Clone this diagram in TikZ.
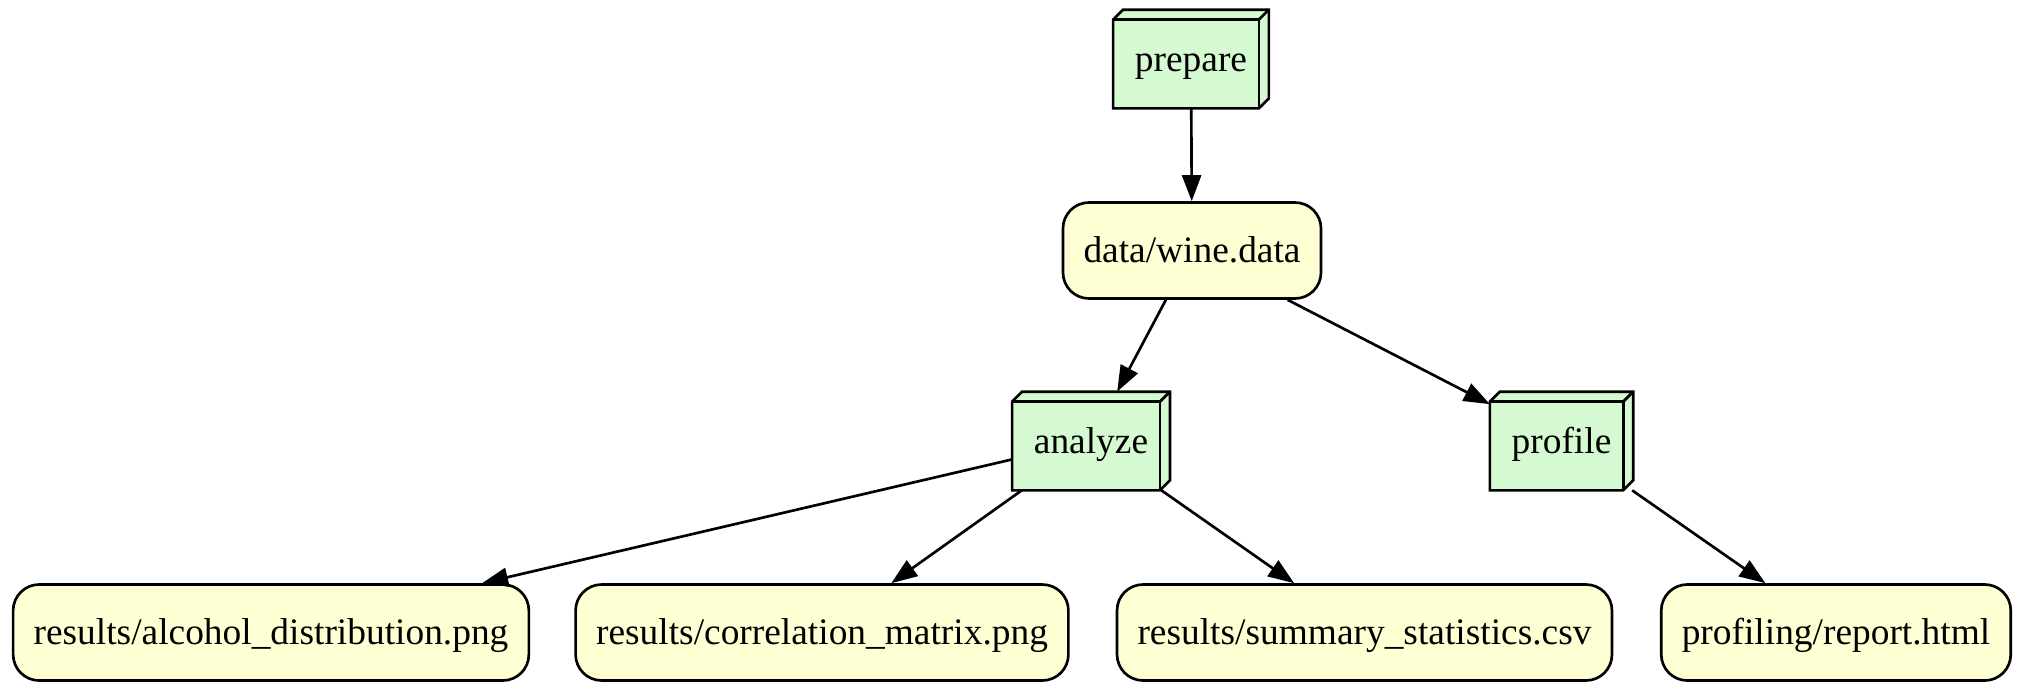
\documentclass[tikz,border=0pt]{standalone}
\usepackage{fontspec}
\setmainfont{Liberation Serif}
\usetikzlibrary{arrows.meta,backgrounds,calc}
\definecolor{boxgreen}{HTML}{D5FAD1}
\definecolor{fileyellow}{HTML}{FFFFD4}
\begin{document}
\begin{tikzpicture}[x=0.5pt,y=-0.5pt,
  base/.style={rectangle, inner xsep=10.25pt, inner ysep=0pt, minimum height=48pt,
    font=\fontsize{18.7}{22}\selectfont, text height=16.4pt, text depth=4.1pt,
    line width=1.33pt},
  task/.style={base},
  file/.style={base, draw, fill=fileyellow, rounded corners=13pt},
  edge/.style={line width=1.33pt, -{Triangle[length=13pt,width=9.5pt]}},
  face/.style={line width=1.33pt, line join=miter}
]
\useasboundingbox (0,0) rectangle (2024,692);

\node[task] (prepare) at (1191,59) {prepare};
\node[file] (data) at (1192,250.5) {data/wine.data};
\node[task] (analyze) at (1091,441) {analyze};
\node[task] (profile) at (1561.5,441) {profile};
\node[file] (alcohol) at (271,632.5) {results/alcohol\_distribution.png};
\node[file] (corr) at (822,632.5) {results/correlation\_matrix.png};
\node[file] (summary) at (1364.5,632.5) {results/summary\_statistics.csv};
\node[file] (report) at (1836,632.5) {profiling/report.html};

\begin{scope}[on background layer]
\foreach \nm in {prepare,analyze,profile}{
  \draw[face, fill=boxgreen]
    ($(\nm.north west)+(0pt,-5pt)$) -- ($(\nm.north west)+(5pt,0pt)$) -- (\nm.north east)
    -- ($(\nm.south east)+(0pt,5pt)$) -- ($(\nm.south east)+(-5pt,0pt)$) -- (\nm.south west) -- cycle;
  \draw[face] ($(\nm.north west)+(0pt,-5pt)$) -- ($(\nm.north east)+(-5pt,-5pt)$)
    -- ($(\nm.south east)+(-5pt,0pt)$);
  \draw[face] ($(\nm.north east)+(-5pt,-5pt)$) -- (\nm.north east);
}
\end{scope}

\draw[edge] (prepare) -- (data);
\draw[edge] (data) -- (analyze);
\draw[edge] (data) -- (profile);
\draw[edge] (analyze) -- (alcohol);
\draw[edge] (analyze) -- (corr);
\draw[edge] (analyze) -- (summary);
\draw[edge] (profile) -- (report);
\end{tikzpicture}
\end{document}
